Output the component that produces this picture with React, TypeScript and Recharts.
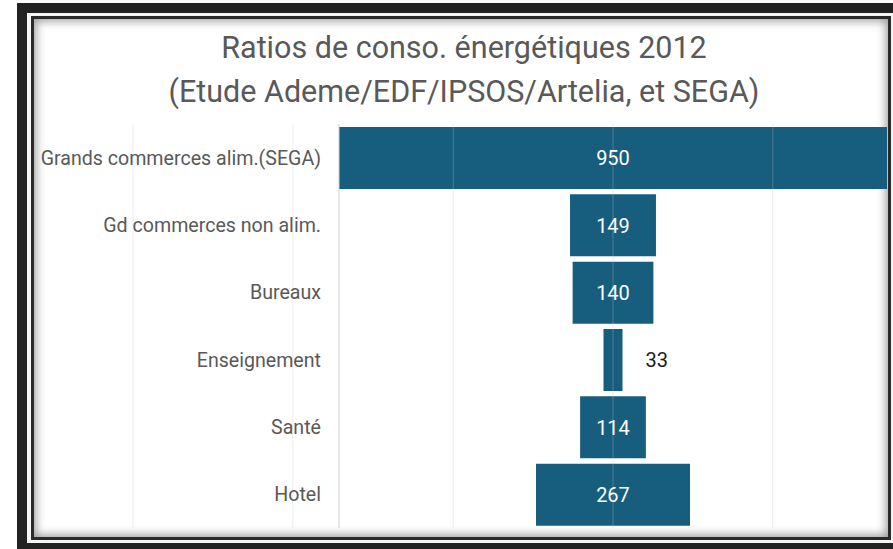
import React from 'react';
import { BarChart, Bar, XAxis, YAxis, ReferenceLine, LabelList } from 'recharts';

const categories = [
  'Grands commerces alim.(SEGA)',
  'Gd commerces non alim.',
  'Bureaux',
  'Enseignement',
  'Santé',
  'Hotel',
];
const ratios = [950, 149, 140, 33, 114, 267];
const gridValues = [-832, -555, -277, 0, 277];
const titleLines = [
  'Ratios de conso. énergétiques 2012',
  '(Etude Ademe/EDF/IPSOS/Artelia, et SEGA)',
];

const data = categories.map((name, i) => ({
  name,
  value: ratios[i],
  range: [-ratios[i] / 2, ratios[i] / 2],
}));

const FONT = 'Roboto, "Noto Sans", sans-serif';

const renderLabel = (props: any) => {
  const { x, y, width, height, value } = props;
  const inside = width > 40;
  const tx = inside ? x + width / 2 : x + width + 23;
  return (
    <text
      x={tx}
      y={y + height / 2}
      dy="0.36em"
      textAnchor={inside ? 'middle' : 'start'}
      fill={inside ? '#ffffff' : '#1a1a1a'}
      fontSize={20}
      fontFamily={FONT}
    >
      {value}
    </text>
  );
};

export default function App() {
  return (
    <div style={{ position: 'absolute', left: 0, top: 0, width: 893, height: 549, overflow: 'hidden', background: '#fff' }}>
      <div style={{ position: 'absolute', left: 17, top: 3, width: 900, height: 560, background: '#222' }} />
      <div style={{ position: 'absolute', left: 27, top: 13, width: 880, height: 530, background: '#f4f4f4' }} />
      <div
        style={{
          position: 'absolute',
          left: 31,
          top: 16,
          width: 854,
          height: 518,
          border: '3px solid #2a2a2a',
          background: '#fff',
          boxShadow: 'inset 0 0 10px 2px rgba(0,0,0,0.4)',
        }}
      />
      {titleLines.map((t, i) => (
        <div
          key={i}
          style={{
            position: 'absolute',
            left: 0,
            width: 928,
            top: i === 0 ? 30 : 74,
            height: 36,
            lineHeight: '36px',
            textAlign: 'center',
            fontFamily: FONT,
            fontSize: 30.5,
            color: '#595959',
            whiteSpace: 'nowrap',
          }}
        >
          {t}
        </div>
      ))}
      <div style={{ position: 'absolute', left: 0, top: 0 }}>
        <BarChart
          width={893}
          height={549}
          data={data}
          layout="vertical"
          margin={{ top: 124, right: 6, bottom: 21, left: 0 }}
        >
          <XAxis type="number" domain={[-475, 475]} hide />
          <YAxis
            type="category"
            dataKey="name"
            width={339}
            tickLine={false}
            tickSize={6}
            tickMargin={12}
            axisLine={{ stroke: '#d0d0d0' }}
            tick={{ fill: '#595959', fontSize: 19.6, fontFamily: FONT }}
            interval={0}
          />
          <Bar dataKey="range" fill="#175e7e" barSize={62} isAnimationActive={false}>
            <LabelList dataKey="value" content={renderLabel} />
          </Bar>
          {gridValues.map((v) => (
            <ReferenceLine
              key={v}
              x={v}
              ifOverflow="visible"
              stroke="#c0c0c0"
              strokeOpacity={0.3}
              strokeWidth={1}
            />
          ))}
        </BarChart>
      </div>
    </div>
  );
}
